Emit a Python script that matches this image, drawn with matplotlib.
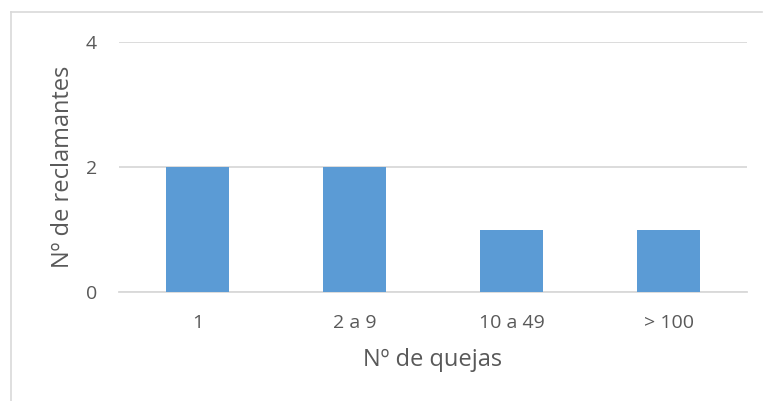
import matplotlib
matplotlib.use("Agg")
import matplotlib.pyplot as plt
from matplotlib.lines import Line2D

categories = ["1", "2 a 9", "10 a 49", "> 100"]
reclamantes = [2, 2, 1, 1]
y_ticks = [0, 2, 4]

plt.rcParams['font.family'] = ['Open Sans', 'DejaVu Sans']
text_color = "#595959"
grid_color = "#d9d9d9"
bar_color = "#5b9bd5"

W, H = 763, 401
fig = plt.figure(figsize=(W / 100, H / 100), dpi=100)
ax = fig.add_axes([119 / W, (H - 292) / H, (747 - 119) / W, (292 - 42) / H])

x = range(len(categories))
ax.bar(x, reclamantes, width=0.4, color=bar_color, zorder=3)

ax.set_xlim(-0.5, len(categories) - 0.5)
ax.set_ylim(0, 4)
ax.set_yticks(y_ticks)
ax.set_xticks(list(x))
ax.set_xticklabels(categories)
ax.grid(axis="y", color=grid_color, linewidth=1.3, zorder=0)
ax.set_axisbelow(True)

for side in ("top", "right", "left"):
    ax.spines[side].set_visible(False)
ax.spines["bottom"].set_color(grid_color)
ax.spines["bottom"].set_linewidth(1.3)

ax.tick_params(axis="both", length=0, labelsize=14, colors=text_color)
ax.tick_params(axis="y", pad=16)
ax.tick_params(axis="x", pad=16)

ax.set_xlabel("Nº de quejas", fontsize=17, color=text_color, labelpad=11)
ax.set_ylabel("Nº de reclamantes", fontsize=17, color=text_color, labelpad=7.5)

# chart area frame (top and left edges)
border = "#d9d9d9"
fig.add_artist(Line2D([10.5 / W, 10.5 / W], [0, (H - 12) / H], color=border,
                      linewidth=1.2, transform=fig.transFigure))
fig.add_artist(Line2D([10.5 / W, 762 / W], [(H - 12) / H, (H - 12) / H], color=border,
                      linewidth=1.2, transform=fig.transFigure))

fig.savefig("out.png", dpi=100, facecolor="white")
